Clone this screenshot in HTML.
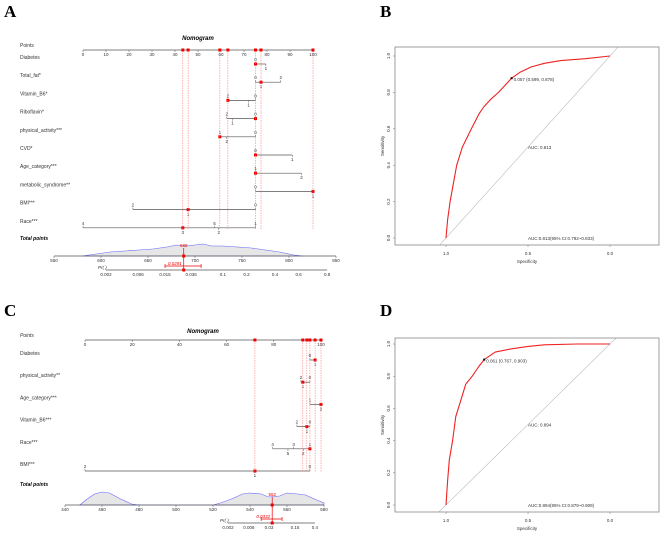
<!DOCTYPE html>
<html><head><meta charset="utf-8">
<style>
html,body{margin:0;padding:0;background:#fff;}
svg{display:block;font-family:"Liberation Sans",sans-serif;}
.pl{font-family:"Liberation Serif",serif;font-weight:bold;font-size:17px;}
</style></head>
<body>
<svg id="fig" width="669" height="548" viewBox="0 0 669 548">
<text class="pl" x="4" y="17">A</text>
<text class="pl" x="380" y="17">B</text>
<text class="pl" x="4" y="316">C</text>
<text class="pl" x="380" y="316">D</text>
<g id="gA"></g>
<g id="gC"></g>
<g id="gB"></g>
<g id="gD"></g>
</svg>
<script>
// ---------- Nomogram A data ----------
const aVars = ["Diabetes","Total_fat*","Vitamin_B6*","Riboflavin*","physical_activity***","CVD*","Age_category***","metabolic_syndrome**","BMI***","Race***"];
const aLevels = [["0","1"],["0","1","2"],["2","1","0"],["2","1","0"],["1","2","0"],["0","1"],["1","2"],["0","1"],["2","1","0"],["4","3","5","2","1"]];
const aPoints = [[75,79.5],[75,77.4,86],[63,72,75],[62.5,65,75],[59.5,62.5,75],[75,91],[75,95],[75,100],[21.7,45.7,75],[0,43.4,57.2,59,75]];
const aSide = [["a","b"],["a","b","a"],["a","b","a"],["a","b","a"],["a","b","a"],["a","b"],["a","b"],["a","b"],["a","b","a"],["a","b","a","b","a"]];
const aSelected = [0,1,0,2,0,0,0,1,1,1];
const aPointTicks = [0,10,20,30,40,50,60,70,80,90,100];
const aTotalTicks = [550,600,650,700,750,800,850];
const aDensX = [580,595,610,625,640,655,670,680,690,700,708,718,730,745,760,775,790,805,815];
const aDensY = [0,2,4,5,6,7,9,11,10,11,12,10,10,9,8,6,4,1,0];
const aPrTicks = ["0.002","0.006","0.015","0.036","0.1","0.2","0.4","0.6","0.8"];
const aTotal = 688, aPr = 0.0291, aPrLo = 0.015, aPrHi = 0.05;

// ---------- Nomogram C data ----------
const cVars = ["Diabetes","physical_activity**","Age_category***","Vitamin_B6***","Race***","BMI***"];
const cLevels = [["0","1"],["2","1","0"],["1","2"],["2","1","0"],["4","3","5","2","1"],["2","1","0"]];
const cPoints = [[95.3,97.5],[91.5,92.3,95.3],[95.3,100],[89.8,94,95.3],[79.5,88.4,86,92.5,95.3],[0,72,95.3]];
const cSide = [["a","b"],["a","b","a"],["a","b"],["a","b","a"],["a","a","b","b","a"],["a","b","a"]];
const cSelected = [1,1,1,1,4,1];
const cPointTicks = [0,20,40,60,80,100];
const cTotalTicks = [440,460,480,500,520,540,560,580];
const cDensX = [448,452,456,460,464,470,476,480,520,524,530,536,540,546,550,556,560,566,570,576,580];
const cDensY = [0,6,11,13,12,6,1,0,0,2,6,11,12,11,8,9,12,11,10,5,2];
const cPrTicks = ["0.002","0.008","0.03","0.15","0.4"];
const cTotal = 552, cPr = 0.0332, cPrLo = 0.018, cPrHi = 0.069;

// ---------- ROC data ----------
const bSpec = [1,0.99,0.975,0.955,0.935,0.9,0.845,0.8,0.77,0.73,0.68,0.6,0.55,0.48,0.4,0.3,0.15,0];
const bSens = [0,0.1,0.2,0.3,0.4,0.5,0.6,0.68,0.72,0.76,0.8,0.878,0.91,0.94,0.96,0.975,0.985,1];
const dSpec = [1,0.99,0.98,0.96,0.94,0.91,0.88,0.84,0.8,0.767,0.7,0.6,0.5,0.4,0.2,0];
const dSens = [0,0.15,0.28,0.4,0.55,0.65,0.75,0.8,0.86,0.903,0.95,0.97,0.985,0.995,1,1];
const rocTicks = [0,0.2,0.4,0.6,0.8,1.0];
const rocXTicks = [1.0,0.5,0.0];

const NS="http://www.w3.org/2000/svg";
function mk(p,t,a,txt){const e=document.createElementNS(NS,t);for(const k in a)e.setAttribute(k,a[k]);if(txt!==undefined)e.textContent=txt;p.appendChild(e);return e;}
const logit=p=>Math.log(p/(1-p));

function nomogram(g,cfg){
  const px=v=>cfg.x0+(v/100)*(cfg.x1-cfg.x0);
  const tx=v=>cfg.t0x+(v-cfg.tmin)/(cfg.tmax-cfg.tmin)*(cfg.t1x-cfg.t0x);
  const pr=p=>cfg.p0x+(logit(p)-logit(cfg.pmin))*cfg.pscale;
  let e=mk(g,"text",{x:cfg.titleX,y:cfg.titleY,"font-size":6,"font-weight":"bold","font-style":"italic","text-anchor":"middle"},"Nomogram");
  
  
  e=mk(g,"text",{x:20,y:cfg.axY-3,"font-size":5,"font-style":cfg.italPts?"italic":"normal",fill:"#333"},"Points");
  
  
  mk(g,"line",{x1:px(0),x2:px(100),y1:cfg.axY,y2:cfg.axY,stroke:"#555","stroke-width":0.7});
  cfg.ticks.forEach(t=>{mk(g,"line",{x1:px(t),x2:px(t),y1:cfg.axY,y2:cfg.axY+2,stroke:"#555","stroke-width":0.5});
    mk(g,"text",{x:px(t),y:cfg.axY+6,"font-size":4.5,"text-anchor":"middle",fill:"#333"},t);});
  const sel=[];
  cfg.vars.forEach((nm,i)=>{
    const y=cfg.rowY0+i*cfg.rowDy;
    const t=mk(g,"text",{x:20,y:y-5,"font-size":5,fill:"#333"},nm);
    
    
    const pts=cfg.points[i];
    const mn=Math.min(...pts),mx=Math.max(...pts);
    const ln=mk(g,"line",{x1:px(mn),x2:px(mx),y1:y,y2:y,stroke:"#555","stroke-width":0.7});
    
    
    pts.forEach((p,j)=>{const up=cfg.side[i][j]==="a";
      mk(g,"line",{x1:px(p),x2:px(p),y1:y,y2:up?y-2:y+2,stroke:"#555","stroke-width":0.5});
      mk(g,"text",{x:px(p),y:up?y-3:y+6,"font-size":4.5,"text-anchor":"middle",fill:"#333"},cfg.levels[i][j]);});
    const sp=pts[cfg.sel[i]];sel.push(sp);
    const d=mk(g,"rect",{x:px(sp)-1.5,y:y-1.5,width:3,height:3,fill:"#e00"});
    
    
  });
  [...new Set(sel)].forEach(sp=>{
    mk(g,"line",{x1:px(sp),x2:px(sp),y1:cfg.axY,y2:cfg.lastY,stroke:"#f66","stroke-width":0.5,"stroke-dasharray":"1.5,1"});
    mk(g,"rect",{x:px(sp)-1.5,y:cfg.axY-1.5,width:3,height:3,fill:"#e00"});
  });
  e=mk(g,"text",{x:20,y:cfg.totLabelY,"font-size":5,"font-weight":"bold","font-style":"italic"},"Total points");
  
  
  let d="M"+tx(cfg.dx[0])+","+cfg.totY;
  cfg.dx.forEach((v,i)=>{d+=" L"+tx(v)+","+(cfg.totY-cfg.dy[i]);});
  d+=" L"+tx(cfg.dx[cfg.dx.length-1])+","+cfg.totY+" Z";
  e=mk(g,"path",{d:d,fill:"#e6e6e6",stroke:"#66f","stroke-width":0.6});
  
  
  mk(g,"line",{x1:tx(cfg.tmin),x2:tx(cfg.tmax),y1:cfg.totY,y2:cfg.totY,stroke:"#555","stroke-width":0.7});
  cfg.tticks.forEach(t=>{mk(g,"line",{x1:tx(t),x2:tx(t),y1:cfg.totY,y2:cfg.totY+2,stroke:"#555","stroke-width":0.5});
    mk(g,"text",{x:tx(t),y:cfg.totY+6,"font-size":4.5,"text-anchor":"middle",fill:"#333"},t);});
  const X=tx(cfg.total);
  mk(g,"line",{x1:X,x2:X,y1:cfg.totY-8,y2:cfg.prY,stroke:"#e00","stroke-width":0.7});
  mk(g,"rect",{x:X-1.5,y:cfg.totY-1.5,width:3,height:3,fill:"#e00"});
  mk(g,"text",{x:X,y:cfg.totY-9,"font-size":4.5,"text-anchor":"middle",fill:"#e00"},cfg.total);
  mk(g,"text",{x:cfg.p0x-8,y:cfg.prY-1,"font-size":4.5,"font-style":"italic",fill:"#333"},"Pr( )");
  const pv=cfg.pticks.map(Number);
  mk(g,"line",{x1:pr(pv[0]),x2:pr(pv[pv.length-1]),y1:cfg.prY,y2:cfg.prY,stroke:"#999","stroke-width":1.2});
  cfg.pticks.forEach(t=>{mk(g,"text",{x:pr(+t),y:cfg.prY+6,"font-size":4.5,"text-anchor":"middle",fill:"#333"},t);});
  const lo=pr(cfg.prLo),hi=pr(cfg.prHi),py=cfg.prY-4;
  mk(g,"line",{x1:lo,x2:hi,y1:py,y2:py,stroke:"#e00","stroke-width":0.7});
  mk(g,"line",{x1:lo,x2:lo,y1:py-2,y2:py+2,stroke:"#e00","stroke-width":0.7});
  mk(g,"line",{x1:hi,x2:hi,y1:py-2,y2:py+2,stroke:"#e00","stroke-width":0.7});
  mk(g,"text",{x:X-2,y:py-1,"font-size":4.5,"font-style":"italic","text-anchor":"end",fill:"#e00"},cfg.pr);
  mk(g,"rect",{x:X-1.5,y:cfg.prY-1.5,width:3,height:3,fill:"#e00"});
}

nomogram(document.getElementById("gA"),{x0:83,x1:313,axY:50,titleX:198,titleY:40,ticks:aPointTicks,vars:aVars,levels:aLevels,points:aPoints,side:aSide,sel:aSelected,
  rowY0:64,rowDy:18.2,lastY:229,totLabelY:240,t0x:54,t1x:336,tmin:550,tmax:850,tticks:aTotalTicks,dx:aDensX,dy:aDensY,totY:256,total:aTotal,
  prY:270,p0x:106,pmin:0.002,pscale:29.1,pticks:aPrTicks,pr:aPr,prLo:aPrLo,prHi:aPrHi});
nomogram(document.getElementById("gC"),{x0:85,x1:321,axY:340,titleX:203,titleY:333,italPts:true,ticks:cPointTicks,vars:cVars,levels:cLevels,points:cPoints,side:cSide,sel:cSelected,
  rowY0:360,rowDy:22.2,lastY:472,totLabelY:486,t0x:65,t1x:324,tmin:440,tmax:580,tticks:cTotalTicks,dx:cDensX,dy:cDensY,totY:505,total:cTotal,
  prY:523,p0x:228,pmin:0.002,pscale:14.97,pticks:cPrTicks,pr:cPr,prLo:cPrLo,prHi:cPrHi});

function roc(g,cfg){
  const xs=s=>cfg.xA+(1-s)*(cfg.xB-cfg.xA);
  const ys=v=>cfg.yA-v*(cfg.yA-cfg.yB);
  const cid="clip"+cfg.id;
  const defs=mk(g,"defs",{});const cp=mk(defs,"clipPath",{id:cid});
  mk(cp,"rect",{x:cfg.bx0,y:cfg.by0,width:cfg.bx1-cfg.bx0,height:cfg.by1-cfg.by0});
  const sL=(cfg.xB-cfg.bx0)/(cfg.xB-cfg.xA), sR=(cfg.xB-cfg.bx1)/(cfg.xB-cfg.xA);
  let e=mk(g,"line",{x1:xs(sL),y1:ys(1-sL),x2:xs(sR),y2:ys(1-sR),stroke:"#bbb","stroke-width":0.6,"clip-path":"url(#"+cid+")"});
  
  
  let d="";cfg.spec.forEach((s,i)=>{d+=(i?" L":"M")+xs(s).toFixed(1)+","+ys(cfg.sens[i]).toFixed(1);});
  e=mk(g,"path",{d:d,fill:"none",stroke:"#e22","stroke-width":1.1,"stroke-linejoin":"round"});
  
  
  e=mk(g,"rect",{x:cfg.bx0,y:cfg.by0,width:cfg.bx1-cfg.bx0,height:cfg.by1-cfg.by0,fill:"none",stroke:"#777","stroke-width":0.7});
  
  
  rocTicks.forEach(t=>{mk(g,"line",{x1:cfg.bx0-2,x2:cfg.bx0,y1:ys(t),y2:ys(t),stroke:"#777","stroke-width":0.5});
    mk(g,"text",{x:0,y:0,"font-size":4.5,"text-anchor":"middle",fill:"#333",transform:"translate("+(cfg.bx0-5)+","+ys(t)+") rotate(-90)"},t.toFixed(1));});
  rocXTicks.forEach(t=>{mk(g,"line",{x1:xs(t),x2:xs(t),y1:cfg.by1,y2:cfg.by1+2,stroke:"#777","stroke-width":0.5});
    mk(g,"text",{x:xs(t),y:cfg.by1+10,"font-size":4.5,"text-anchor":"middle",fill:"#333"},t.toFixed(1));});
  e=mk(g,"text",{x:(cfg.bx0+cfg.bx1)/2,y:cfg.by1+18,"font-size":4.5,"text-anchor":"middle",fill:"#333"},"Specificity");
  
  
  e=mk(g,"text",{x:0,y:0,"font-size":4.5,"text-anchor":"middle",fill:"#333",transform:"translate("+(cfg.bx0-11)+","+(cfg.by0+cfg.by1)/2+") rotate(-90)"},"Sensitivity");
  
  
  const ts=cfg.spec[cfg.thr],tv=cfg.sens[cfg.thr];
  mk(g,"rect",{x:xs(ts)-1,y:ys(tv)-1,width:2,height:2,fill:"#000"});
  mk(g,"text",{x:xs(ts)+2,y:ys(tv)+3,"font-size":4.5,fill:"#333"},cfg.thrLabel);
  mk(g,"text",{x:xs(0.5),y:ys(0.5)+2,"font-size":4.5,fill:"#333"},cfg.auc);
  mk(g,"text",{x:xs(0.5),y:ys(0)+2,"font-size":4.5,fill:"#333"},cfg.ci);
}
roc(document.getElementById("gB"),{id:"B",spec:bSpec,sens:bSens,thr:11,xA:446,xB:610,yA:238,yB:56,bx0:395,bx1:659,by0:47,by1:245,
  thrLabel:"0.057 (0.599, 0.878)",auc:"AUC: 0.813",ci:"AUC:0.813(95% CI:0.792~0.833)"});
roc(document.getElementById("gD"),{id:"D",spec:dSpec,sens:dSens,thr:9,xA:446,xB:610,yA:505,yB:344,bx0:395,bx1:659,by0:338,by1:512,
  thrLabel:"0.061 (0.767, 0.903)",auc:"AUC: 0.894",ci:"AUC:0.894(95% CI:0.879~0.909)"});
</script>
</body></html>
